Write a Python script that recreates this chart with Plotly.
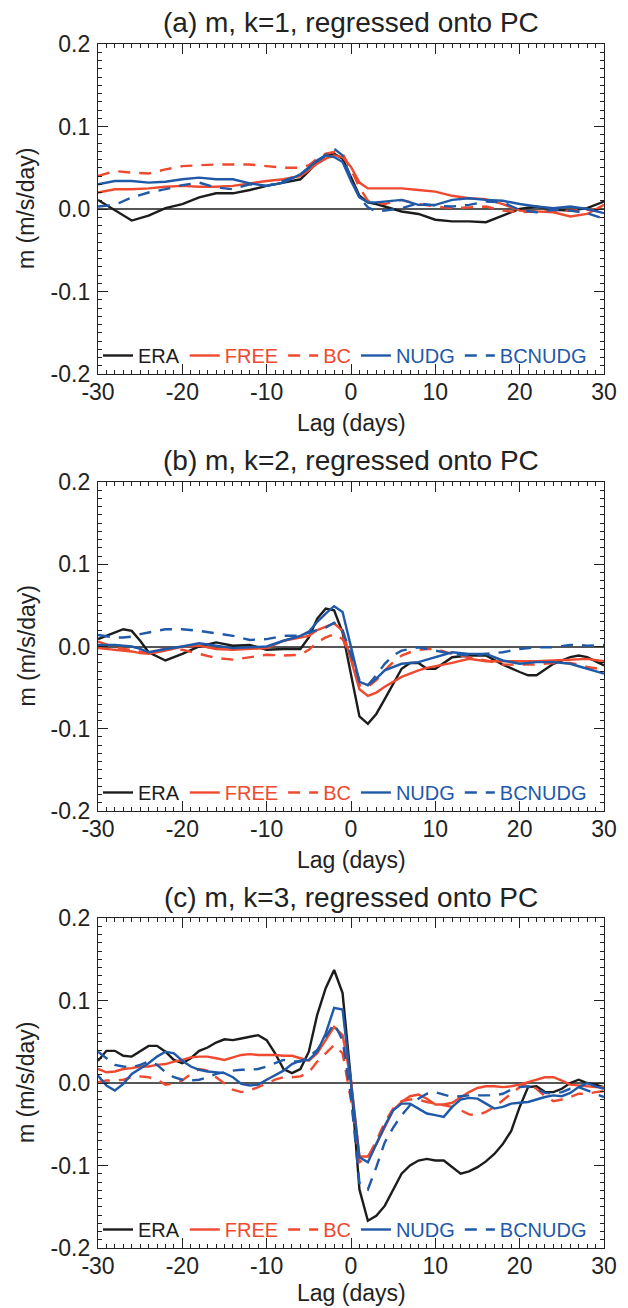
import plotly.graph_objects as go

# ---------------- data ----------------
LAG_A = [-30, -28, -26, -24, -22, -20, -18, -16, -14, -12, -10, -8, -6, -5, -4, -3, -2, -1,
         0, 1, 2, 3, 4, 6, 8, 10, 12, 14, 16, 18, 20, 22, 24, 26, 28, 30]
ERA_A = [0.011, -0.002, -0.014, -0.008, 0.001, 0.006, 0.014, 0.019, 0.019, 0.023, 0.028, 0.032,
         0.036, 0.046, 0.057, 0.065, 0.067, 0.061, 0.038, 0.016, 0.008, 0.006, 0.003, -0.003,
         -0.006, -0.013, -0.015, -0.015, -0.016, -0.008, 0.000, 0.003, -0.001, -0.002, 0.001, 0.009]
FREE_A = [0.020, 0.024, 0.024, 0.025, 0.027, 0.028, 0.027, 0.027, 0.028, 0.031, 0.034, 0.036,
          0.040, 0.047, 0.055, 0.061, 0.065, 0.063, 0.051, 0.032, 0.025, 0.025, 0.025, 0.025,
          0.023, 0.021, 0.016, 0.013, 0.012, 0.006, -0.002, -0.003, -0.004, -0.009, -0.006, 0.005]
BC_A = [0.040, 0.046, 0.044, 0.043, 0.048, 0.052, 0.053, 0.054, 0.054, 0.054, 0.052, 0.050,
        0.050, 0.053, 0.061, 0.067, 0.069, 0.067, 0.048, 0.026, 0.010, 0.008, 0.006, 0.011,
        0.006, 0.003, 0.001, 0.002, 0.003, -0.002, -0.004, -0.003, -0.003, -0.002, -0.001, -0.001]
NUDG_A = [0.030, 0.034, 0.034, 0.032, 0.033, 0.036, 0.038, 0.036, 0.036, 0.031, 0.028, 0.032,
          0.042, 0.050, 0.059, 0.065, 0.063, 0.057, 0.034, 0.014, 0.008, 0.008, 0.009, 0.011,
          0.005, 0.005, 0.011, 0.013, 0.011, 0.010, 0.006, 0.003, 0.001, 0.003, 0.000, -0.005]
BCNUDG_A = [0.003, 0.005, 0.014, 0.020, 0.024, 0.029, 0.032, 0.026, 0.024, 0.030, 0.028, 0.034,
            0.042, 0.050, 0.057, 0.065, 0.073, 0.065, 0.036, 0.014, 0.002, -0.003, -0.002, 0.001,
            0.007, 0.004, 0.003, 0.005, 0.009, 0.008, -0.001, -0.004, -0.001, -0.002, -0.005, -0.012]

LAG_B = [-30, -28, -27, -26, -25, -24, -22, -20, -18, -16, -14, -12, -10, -8, -6, -5, -4, -3, -2, -1,
         0, 1, 2, 3, 4, 5, 6, 7, 8, 9, 10, 12, 14, 16, 18, 20, 21, 22, 24, 26, 27, 28, 30]
ERA_B = [0.009, 0.017, 0.021, 0.019, 0.007, -0.007, -0.017, -0.009, 0.000, 0.005, 0.001, 0.002,
         -0.004, -0.003, -0.003, 0.011, 0.034, 0.046, 0.044, 0.017, -0.033, -0.085, -0.094, -0.082,
         -0.064, -0.045, -0.027, -0.020, -0.020, -0.027, -0.027, -0.013, -0.011, -0.011, -0.022,
         -0.031, -0.035, -0.035, -0.021, -0.013, -0.011, -0.013, -0.023]
FREE_B = [-0.002, -0.004, -0.005, -0.006, -0.008, -0.009, -0.005, 0.000, 0.001, -0.003, -0.004,
          -0.003, -0.002, 0.007, 0.011, 0.013, 0.020, 0.024, 0.028, 0.019, -0.017, -0.052, -0.060,
          -0.056, -0.049, -0.043, -0.037, -0.033, -0.029, -0.026, -0.024, -0.020, -0.015, -0.018,
          -0.018, -0.018, -0.018, -0.018, -0.017, -0.016, -0.015, -0.015, -0.018]
BC_B = [0.006, -0.001, -0.003, -0.004, -0.006, -0.007, -0.003, -0.004, -0.009, -0.014, -0.016,
        -0.013, -0.010, -0.011, -0.010, -0.004, 0.005, 0.011, 0.015, 0.009, -0.013, -0.047, -0.049,
        -0.041, -0.029, -0.019, -0.011, -0.007, -0.004, -0.003, -0.003, -0.009, -0.013, -0.017,
        -0.022, -0.022, -0.022, -0.022, -0.020, -0.020, -0.022, -0.025, -0.028]
NUDG_B = [0.002, 0.002, 0.001, 0.000, -0.003, -0.007, -0.003, 0.000, 0.004, 0.001, -0.002, -0.001,
          0.000, 0.007, 0.013, 0.018, 0.030, 0.040, 0.049, 0.042, -0.001, -0.043, -0.047, -0.039,
          -0.029, -0.025, -0.021, -0.020, -0.019, -0.016, -0.013, -0.007, -0.009, -0.009, -0.017,
          -0.021, -0.020, -0.019, -0.019, -0.021, -0.024, -0.027, -0.033]
BCNUDG_B = [0.014, 0.011, 0.011, 0.012, 0.015, 0.017, 0.021, 0.021, 0.019, 0.016, 0.013, 0.008,
            0.009, 0.013, 0.013, 0.017, 0.020, 0.023, 0.029, 0.020, -0.010, -0.041, -0.047, -0.035,
            -0.021, -0.011, -0.005, -0.003, -0.001, -0.003, -0.005, -0.009, -0.011, -0.009, -0.007,
            -0.003, -0.002, -0.001, -0.001, 0.002, 0.002, 0.001, 0.002]

LAG_C = list(range(-30, 31))
ERA_C = [0.027, 0.039, 0.039, 0.033, 0.032, 0.038, 0.045, 0.045, 0.038, 0.028, 0.024, 0.030,
         0.039, 0.043, 0.049, 0.053, 0.052, 0.054, 0.056, 0.058, 0.052, 0.036, 0.017, 0.012,
         0.017, 0.038, 0.083, 0.115, 0.137, 0.109, 0.003, -0.129, -0.167, -0.161, -0.149, -0.129,
         -0.110, -0.100, -0.094, -0.092, -0.094, -0.094, -0.102, -0.110, -0.107, -0.102, -0.095,
         -0.086, -0.074, -0.058, -0.029, -0.005, -0.004, -0.011, -0.011, -0.007, 0.000, 0.004,
         0.000, -0.002, -0.005]
FREE_C = [0.017, 0.013, 0.014, 0.017, 0.018, 0.020, 0.020, 0.022, 0.023, 0.026, 0.028, 0.031,
          0.032, 0.032, 0.030, 0.028, 0.031, 0.034, 0.035, 0.034, 0.034, 0.034, 0.033, 0.033,
          0.030, 0.027, 0.036, 0.052, 0.068, 0.058, 0.003, -0.089, -0.089, -0.074, -0.054, -0.033,
          -0.023, -0.016, -0.014, -0.019, -0.026, -0.026, -0.024, -0.017, -0.011, -0.006, -0.004,
          -0.004, -0.005, -0.004, -0.002, 0.001, 0.004, 0.007, 0.007, 0.003, -0.002, -0.003,
          -0.004, -0.005, -0.005]
BC_C = [0.001, 0.003, 0.003, 0.004, 0.007, 0.008, 0.007, 0.004, -0.002, -0.001, 0.003, 0.011,
        0.017, 0.015, 0.007, -0.001, -0.008, -0.011, -0.009, -0.005, 0.000, 0.004, 0.007, 0.007,
        0.008, 0.013, 0.026, 0.036, 0.046, 0.036, -0.021, -0.096, -0.090, -0.070, -0.048, -0.031,
        -0.022, -0.020, -0.020, -0.023, -0.025, -0.027, -0.029, -0.033, -0.038, -0.039, -0.035,
        -0.029, -0.021, -0.013, -0.005, -0.001, -0.007, -0.016, -0.022, -0.020, -0.017, -0.013,
        -0.013, -0.011, -0.010]
NUDG_C = [0.009, -0.003, -0.009, -0.001, 0.011, 0.017, 0.024, 0.032, 0.038, 0.036, 0.027, 0.020,
          0.016, 0.014, 0.013, 0.012, 0.007, -0.001, -0.003, -0.002, 0.004, 0.009, 0.015, 0.023,
          0.027, 0.028, 0.038, 0.060, 0.091, 0.089, 0.003, -0.090, -0.096, -0.074, -0.052, -0.033,
          -0.025, -0.025, -0.031, -0.037, -0.039, -0.041, -0.029, -0.020, -0.018, -0.019, -0.025,
          -0.031, -0.029, -0.025, -0.024, -0.023, -0.020, -0.017, -0.015, -0.016, -0.012, -0.005,
          0.000, -0.004, -0.007]
BCNUDG_C = [0.038, 0.030, 0.022, 0.020, 0.019, 0.022, 0.026, 0.022, 0.013, 0.007, 0.004, 0.003,
            0.004, 0.007, 0.011, 0.013, 0.015, 0.016, 0.016, 0.017, 0.020, 0.024, 0.028, 0.026,
            0.026, 0.032, 0.040, 0.056, 0.072, 0.052, -0.017, -0.121, -0.129, -0.102, -0.072,
            -0.054, -0.039, -0.027, -0.019, -0.013, -0.011, -0.014, -0.017, -0.016, -0.015, -0.015,
            -0.015, -0.015, -0.013, -0.008, -0.005, -0.004, -0.007, -0.012, -0.013, -0.011, -0.007,
            -0.005, -0.009, -0.013, -0.017]

SERIES_NAMES = ["ERA", "FREE", "BC", "NUDG", "BCNUDG"]
PANEL_TITLES = ["(a) m, k=1, regressed onto PC",
                "(b) m, k=2, regressed onto PC",
                "(c) m, k=3, regressed onto PC"]
X_TICKS = [-30, -20, -10, 0, 10, 20, 30]
X_TICK_TEXT = ["-30", "-20", "-10", "0", "10", "20", "30"]
Y_TICKS = [-0.2, -0.1, 0.0, 0.1, 0.2]
Y_TICK_TEXT = ["-0.2", "-0.1", "0.0", "0.1", "0.2"]
X_TITLE = "Lag (days)"
Y_TITLE = "m (m/s/day)"

# ---------------- style ----------------
W, H = 628, 1308
OFF = 8                      # page body margin of the viewer
ML, MR = 98 - OFF, 24 + OFF
BLACK = "#1c1c1c"
RED = "#ef4a2f"
BLUE = "#1f59a8"
STYLES = {
    "ERA": dict(color=BLACK, dash="solid"),
    "FREE": dict(color=RED, dash="solid"),
    "BC": dict(color=RED, dash="12px,9px"),
    "NUDG": dict(color=BLUE, dash="solid"),
    "BCNUDG": dict(color=BLUE, dash="12px,9px"),
}
FONT = "Liberation Sans, Arial, Helvetica, sans-serif"
PANEL_PX = [(44, 374), (482, 811), (918, 1248)]  # top, bottom (screen px) of each plot area
XTITLE_GAP = [49, 49, 45]


def py(p):
    return 1 - (p - OFF) / H


panels = [
    (LAG_A, [ERA_A, FREE_A, BC_A, NUDG_A, BCNUDG_A]),
    (LAG_B, [ERA_B, FREE_B, BC_B, NUDG_B, BCNUDG_B]),
    (LAG_C, [ERA_C, FREE_C, BC_C, NUDG_C, BCNUDG_C]),
]

fig = go.Figure()
annotations = []
layout_axes = {}
for i, (lag, vals) in enumerate(panels):
    n = i + 1
    xa = "x" if n == 1 else f"x{n}"
    ya = "y" if n == 1 else f"y{n}"
    lg = "legend" if n == 1 else f"legend{n}"
    for name, v in zip(SERIES_NAMES, vals):
        st = STYLES[name]
        fig.add_trace(go.Scatter(
            x=lag, y=v, mode="lines", xaxis=xa, yaxis=ya, legend=lg,
            name=f"<span style='color:{st['color']}'>{name}</span>",
            line=dict(color=st["color"], width=2.4, dash=st["dash"]),
            showlegend=True,
        ))
    top, bot = PANEL_PX[i]
    axkey = "" if n == 1 else str(n)
    common_tick = dict(ticks="inside", showline=True, linecolor="#222", linewidth=1.3,
                       mirror="allticks", tickcolor="#222", tickwidth=1.2, automargin=False,
                       showgrid=False, tickfont=dict(family=FONT, size=23, color="#222"))
    layout_axes[f"xaxis{axkey}"] = dict(
        domain=[0, 1], anchor=ya, range=[-30, 30], tickvals=X_TICKS, ticktext=X_TICK_TEXT,
        ticklen=10, zeroline=False, ticklabelstandoff=-3,
        minor=dict(dtick=1, ticks="inside", ticklen=4, tickcolor="#222", tickwidth=1, showgrid=False),
        **common_tick)
    layout_axes[f"yaxis{axkey}"] = dict(
        domain=[py(bot), py(top)], anchor=xa, range=[-0.2, 0.2], tickvals=Y_TICKS,
        ticktext=Y_TICK_TEXT, ticklen=10, zeroline=True, zerolinecolor="#555",
        zerolinewidth=1.6, ticklabelstandoff=2,
        minor=dict(dtick=0.01, ticks="inside", ticklen=4, tickcolor="#222", tickwidth=1, showgrid=False),
        **common_tick)
    layout_axes[lg] = dict(
        orientation="h", x=0.0, xanchor="left", y=py(bot + 1), yanchor="bottom",
        bgcolor="rgba(0,0,0,0)", borderwidth=0, itemwidth=30,
        font=dict(family=FONT, size=20, color="#222"), tracegroupgap=0,
    )
    annotations.append(dict(text=PANEL_TITLES[i], x=0.5, xref="paper", y=py(top - 21),
                            yref="paper", xanchor="center", yanchor="middle", showarrow=False,
                            font=dict(family=FONT, size=28, color="#222")))
    annotations.append(dict(text=X_TITLE, x=0.5, xref="paper", y=py(bot + XTITLE_GAP[i]),
                            yref="paper", xanchor="center", yanchor="middle", showarrow=False,
                            font=dict(family=FONT, size=23, color="#222")))
    annotations.append(dict(text=Y_TITLE, x=(26 - OFF - ML) / (W - ML - MR), xref="paper",
                            y=py((top + bot) / 2), yref="paper", xanchor="center",
                            yanchor="middle", textangle=-90, showarrow=False,
                            font=dict(family=FONT, size=23, color="#222")))

fig.update_layout(
    width=W, height=H, margin=dict(l=ML, r=MR, t=0, b=0, autoexpand=False),
    paper_bgcolor="white", plot_bgcolor="white",
    annotations=annotations, **layout_axes,
)
fig.write_html("out.html")
